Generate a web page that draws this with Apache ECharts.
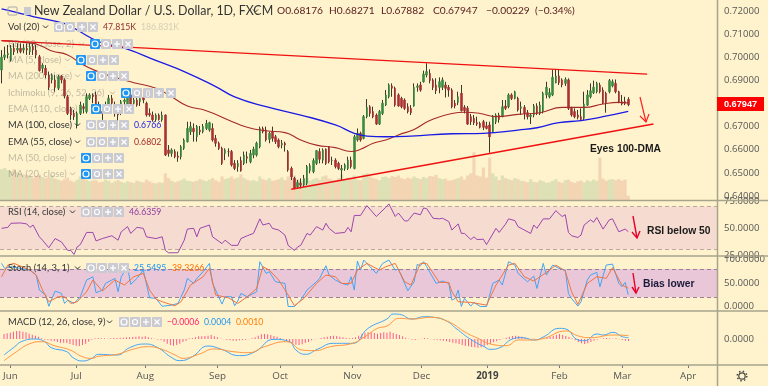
<!DOCTYPE html>
<html><head><meta charset="utf-8">
<style>html,body{margin:0;padding:0;background:#fff3cd}#c{width:768px;height:386px}</style>
<script src="https://cdn.jsdelivr.net/npm/echarts@6/dist/echarts.min.js"></script></head>
<body><div id="c"></div>
<script>
const tickIdx=[2,23,45,68,88,111,133,154,177,197,218];
const tickLabels=['Jun','Jul','Aug','Sep','Oct','Nov','Dec','2019','Feb','Mar','Apr'];
const priceTicks=[0.64,0.65,0.66,0.67,0.68,0.69,0.70,0.71,0.72];
const opens=[.6945,.7000,.7010,.6988,.7039,.7031,.7039,.7031,.7039,.7024,
.7046,.7031,.7002,.6952,.6952,.6923,.6902,.6902,.6866,.6919,
.6902,.6829,.6779,.6757,.6707,.6757,.6786,.6765,.6822,.6837,
.6837,.6793,.6765,.6786,.6789,.6822,.6757,.6772,.6757,.6808,
.6786,.6837,.6801,.6815,.6808,.6825,.6801,.6757,.6750,.6731,
.6750,.6729,.6750,.6599,.6584,.6592,.6573,.6570,.6606,.6635,
.6678,.6692,.6656,.6685,.6678,.6692,.6685,.6692,.6649,.6628,
.6606,.6584,.6592,.6592,.6541,.6527,.6553,.6541,.6570,.6548,
.6577,.6577,.6613,.6692,.6685,.6645,.6678,.6656,.6642,.6620,
.6628,.6592,.6519,.6476,.6440,.6455,.6447,.6455,.6509,.6505,
.6541,.6592,.6555,.6602,.6613,.6553,.6555,.6541,.6512,.6519,
.6519,.6555,.6519,.6642,.6671,.6649,.6743,.6786,.6765,.6750,
.6711,.6757,.6793,.6829,.6876,.6866,.6837,.6822,.6815,.6786,
.6779,.6789,.6870,.6880,.6894,.6923,.6930,.6902,.6880,.6870,
.6870,.6880,.6870,.6858,.6801,.6804,.6844,.6783,.6779,.6743,
.6736,.6717,.6714,.6721,.6703,.6707,.6678,.6721,.6750,.6743,
.6789,.6786,.6837,.6822,.6822,.6779,.6783,.6760,.6743,.6750,
.6789,.6757,.6765,.6837,.6829,.6837,.6890,.6919,.6902,.6887,
.6902,.6779,.6765,.6750,.6743,.6736,.6793,.6829,.6847,.6851,
.6880,.6858,.6844,.6851,.6876,.6887,.6851,.6808,.6808,.68176];
const closes=[.7000,.7010,.7017,.7039,.7024,.7039,.7024,.7039,.7031,.7046,
.7031,.7010,.6942,.6966,.6923,.6870,.6923,.6870,.6916,.6902,
.6832,.6757,.6750,.6743,.6757,.6793,.6779,.6829,.6837,.6829,
.6789,.6779,.6757,.6793,.6822,.6801,.6793,.6750,.6808,.6815,
.6829,.6793,.6815,.6793,.6822,.6815,.6750,.6750,.6729,.6750,
.6731,.6750,.6577,.6584,.6599,.6570,.6567,.6613,.6642,.6692,
.6700,.6678,.6700,.6678,.6700,.6714,.6717,.6642,.6628,.6606,
.6541,.6599,.6592,.6534,.6519,.6541,.6509,.6577,.6563,.6584,
.6602,.6628,.6692,.6678,.6642,.6671,.6649,.6635,.6613,.6628,
.6620,.6512,.6483,.6433,.6458,.6447,.6476,.6527,.6531,.6553,
.6596,.6559,.6599,.6541,.6548,.6555,.6527,.6519,.6519,.6534,
.6555,.6527,.6656,.6671,.6642,.6743,.6783,.6757,.6743,.6711,
.6765,.6801,.6837,.6880,.6866,.6793,.6789,.6786,.6779,.6765,
.6760,.6870,.6876,.6858,.6927,.6938,.6899,.6870,.6855,.6894,
.6902,.6866,.6858,.6786,.6789,.6829,.6769,.6769,.6711,.6721,
.6717,.6711,.6697,.6697,.6692,.6656,.6740,.6750,.6731,.6786,
.6779,.6837,.6822,.6851,.6772,.6786,.6757,.6743,.6750,.6789,
.6757,.6793,.6844,.6870,.6847,.6913,.6919,.6890,.6880,.6904,
.6779,.6750,.6743,.6740,.6731,.6798,.6837,.6855,.6870,.6887,
.6851,.6801,.6804,.6899,.6894,.6851,.6808,.6798,.6801,.67947];
const highs=[.7031,.7046,.7053,.7053,.7060,.7060,.7060,.7057,.7060,.7063,
.7060,.7053,.7010,.6974,.6966,.6938,.6930,.6923,.6923,.6923,
.6909,.6837,.6786,.6772,.6765,.6808,.6801,.6844,.6844,.6844,
.6851,.6808,.6793,.6808,.6837,.6837,.6808,.6786,.6815,.6822,
.6837,.6844,.6829,.6829,.6832,.6837,.6808,.6779,.6765,.6757,
.6757,.6765,.6753,.6620,.6606,.6602,.6592,.6620,.6649,.6721,
.6721,.6714,.6707,.6703,.6711,.6729,.6721,.6714,.6664,.6635,
.6613,.6606,.6606,.6599,.6555,.6555,.6570,.6592,.6592,.6599,
.6613,.6635,.6700,.6700,.6700,.6678,.6700,.6664,.6649,.6642,
.6635,.6599,.6527,.6483,.6469,.6476,.6491,.6534,.6541,.6563,
.6599,.6606,.6606,.6606,.6616,.6570,.6563,.6548,.6534,.6541,
.6570,.6570,.6664,.6692,.6678,.6750,.6819,.6793,.6786,.6757,
.6772,.6815,.6858,.6887,.6887,.6873,.6844,.6829,.6822,.6801,
.6793,.6887,.6887,.6894,.6942,.6974,.6948,.6909,.6909,.6913,
.6913,.6894,.6880,.6866,.6815,.6851,.6880,.6793,.6789,.6755,
.6750,.6743,.6721,.6729,.6721,.6721,.6750,.6757,.6760,.6815,
.6815,.6844,.6844,.6855,.6829,.6808,.6793,.6772,.6757,.6798,
.6801,.6808,.6851,.6894,.6866,.6945,.6948,.6945,.6909,.6913,
.6909,.6786,.6779,.6772,.6779,.6851,.6858,.6887,.6899,.6894,
.6890,.6870,.6851,.6906,.6904,.6904,.6855,.6837,.6829,.68271];
const lows=[.6887,.6988,.6995,.6981,.7010,.7017,.7017,.7017,.7010,.7010,
.7010,.6995,.6938,.6933,.6909,.6858,.6887,.6851,.6858,.6887,
.6822,.6750,.6729,.6729,.6692,.6750,.6757,.6757,.6815,.6801,
.6779,.6765,.6729,.6772,.6779,.6779,.6743,.6721,.6750,.6779,
.6779,.6786,.6786,.6786,.6789,.6801,.6743,.6743,.6721,.6721,
.6726,.6721,.6573,.6570,.6570,.6563,.6548,.6558,.6599,.6631,
.6664,.6635,.6635,.6664,.6671,.6685,.6678,.6635,.6613,.6599,
.6534,.6555,.6570,.6527,.6512,.6505,.6505,.6534,.6541,.6541,
.6563,.6570,.6606,.6671,.6635,.6628,.6635,.6625,.6606,.6606,
.6592,.6505,.6469,.6429,.6433,.6433,.6440,.6447,.6498,.6498,
.6534,.6541,.6541,.6534,.6541,.6534,.6519,.6512,.6469,.6509,
.6512,.6519,.6515,.6635,.6635,.6645,.6736,.6743,.6736,.6707,
.6707,.6750,.6789,.6822,.6829,.6786,.6786,.6779,.6772,.6757,
.6750,.6786,.6851,.6851,.6890,.6913,.6887,.6858,.6841,.6844,
.6858,.6826,.6829,.6779,.6779,.6793,.6765,.6757,.6707,.6707,
.6707,.6703,.6692,.6685,.6688,.6587,.6674,.6711,.6717,.6740,
.6772,.6779,.6815,.6818,.6765,.6750,.6731,.6731,.6711,.6740,
.6750,.6750,.6757,.6822,.6822,.6832,.6887,.6880,.6870,.6876,
.6772,.6743,.6736,.6731,.6726,.6729,.6789,.6822,.6841,.6844,
.6844,.6798,.6760,.6844,.6870,.6844,.6801,.6792,.6793,.67882];
const volumes=[300,310,290,280,300,270,260,250,245,230,220,235,250,225,215,225,240,210,200,190,
205,220,190,180,200,230,215,200,185,190,195,175,180,200,190,170,185,195,180,170,
185,175,170,190,180,175,200,185,170,165,175,170,260,215,190,175,185,195,210,190,
185,180,190,205,195,185,200,215,195,180,230,205,215,230,210,220,250,215,200,190,
195,185,230,205,195,215,190,195,205,220,195,230,250,240,205,190,200,215,190,205,
215,200,230,240,210,200,195,215,250,205,220,210,240,200,195,250,260,230,215,205,
195,225,230,215,235,225,240,215,205,220,210,230,215,205,225,215,235,230,245,215,
205,210,190,195,205,215,230,200,240,260,460,240,230,315,220,410,260,230,195,240,
215,205,195,215,205,190,185,175,205,180,175,195,185,170,175,190,205,180,170,195,
200,180,170,185,190,175,195,185,200,190,410,210,190,200,205,195,205,190,200,48];
const ema55Days=[0,10,13,16,21,25,30,36,42,49,54,59,65,72,78,84,90,95,100,106,111,114,118,122,126,131,136,143,147,152,157,164,171,178,185,191,196,199];
const ema55Vals=[.7072,.7060,.7046,.7027,.7010,.6974,.6941,.6913,.6890,.6866,.6829,.6789,.6769,.6729,.6697,.6682,.6674,.6642,.6620,.6609,.6592,.6602,.6628,.6642,.6664,.6688,.6726,.6757,.6762,.6757,.6743,.6753,.6760,.6783,.6783,.6798,.6805,.6802];
const ma100Days=[0,5,10,21,24,31,39,50,58,68,74,84,95,106,112,116,122,130,143,153,164,170,177,184,191,199];
const ma100Vals=[.7209,.7193,.7176,.7142,.7118,.7067,.7039,.6981,.6938,.6873,.6829,.6786,.6750,.6707,.6671,.6659,.6656,.6659,.6669,.6671,.6685,.6695,.6717,.6726,.6743,.6766];
const resistDays=[0,205], resistVals=[.7072,.6927];
const supportDays=[92,207], supportVals=[.6429,.6711];
const rsiDays=[0,2,3,6,8,9,10,12,13,15,17,19,21,22,23,24,25,27,29,30,32,35,37,38,40,41,43,45,46,49,51,52,53,56,58,59,61,62,63,66,67,70,71,73,75,76,78,80,82,83,85,86,88,90,91,93,94,95,97,98,100,102,103,104,106,109,110,111,112,114,116,119,122,123,125,126,128,129,131,133,134,135,137,139,140,142,143,145,146,147,149,150,151,153,154,157,158,160,161,163,164,168,169,170,172,174,176,178,179,180,181,183,184,185,187,188,189,191,193,194,196,198,199];
const rsiVals=[49.7,50.6,54.4,54.7,53.8,50.6,52.8,41.8,38.7,31.7,40.2,37.1,29.2,29.2,25.4,32.4,34.6,45.9,45.9,38.0,40.2,42.8,38.7,46.5,51.3,45,50.6,49.7,41.8,40.2,41.8,29.2,27,27,38.7,49,49.7,41.8,49.7,52.8,41.8,35.5,38.7,33.9,33.9,40.2,42.8,45,58.5,52.8,54.4,49.7,48.1,43.4,33.9,29.2,32.4,33.9,45,43.4,51.3,48.1,54.4,49.7,45,45.9,50.6,46.5,61.7,61.7,70.8,60.7,69.2,72.4,60.7,63.9,56.6,56.6,63.9,62.3,68.6,68,59.1,58.5,59.1,56,48.1,53.8,45,45,39.3,41.8,39.3,39.6,34.6,49.7,45.9,53.5,58.5,56.9,51.3,45,52.8,49.7,58.5,58.5,66.1,60.7,62.3,45.9,42.8,41.2,43.4,52.8,57.6,55.4,59.8,49,57.6,58.5,46.5,49,46.64];
const kDays=[0,1,3,9,11,12,14,15,17,19,20,21,23,25,27,29,30,32,33,36,37,38,40,41,43,45,47,49,51,54,56,58,59,61,62,64,66,67,70,71,73,74,75,76,78,81,82,84,85,87,90,91,93,95,97,100,101,103,104,106,108,110,111,112,113,114,115,119,121,123,125,126,129,131,132,133,134,135,138,140,142,143,144,145,146,147,149,150,152,154,156,158,159,161,163,164,167,169,170,172,173,175,177,179,180,181,183,184,186,187,189,190,192,194,196,197,198,199];
const kVals=[91.7,81.2,84.7,77.6,67,35.3,24.7,1,33.2,28.2,7,14.1,7,21.2,56.5,63.5,29.6,35.3,49.4,60,31.8,63.5,84.7,47.3,60,77.6,19,17.6,1,3.5,7,35.3,60,49.4,60,74.1,91.7,49.4,5.6,21.2,21.2,2.1,12,28.2,21.2,31.8,95.3,70.6,74.1,52.9,49.4,0.5,0.5,14.1,35.3,52.9,60,86.8,67,56.5,49.4,45.9,63.5,35.3,96.7,77.6,98.8,70.6,91.7,98.8,77.6,79.7,33.9,52.9,89.6,86.8,95.3,84.7,49.4,54.3,49.4,14.1,17.6,35.3,0.5,17.6,1.4,9.2,0.5,0.5,49.4,56.5,45.9,95.3,88.2,70.6,52.9,64.9,38.8,91.7,67,88.2,81.2,77.6,28.2,17.6,1.4,10.6,56.5,67,72.7,42.3,88.2,90.3,49.4,42.3,51.5,25.55];
const dDays=[0,2,4,9,11,13,15,18,20,22,24,27,29,32,36,39,42,45,47,49,51,55,57,60,64,66,68,72,75,78,81,83,85,88,91,93,96,100,103,106,108,111,113,116,120,122,125,128,130,133,135,139,142,143,145,149,154,157,161,163,166,169,171,174,176,179,181,183,186,189,192,194,197,199];
const dVals=[63.5,88.2,91.7,77.6,67,35.3,10.6,21.2,21.2,7,10.6,31.8,56.5,33.2,56.5,45.9,63.5,70.6,35.3,16.2,10.6,2.1,10.6,45.9,63.5,81.2,24.7,19.1,7,21.2,38.8,84.7,77.6,56.5,24.7,2.1,17.6,49.4,67,63.5,49.4,49.4,77.6,91.7,77.6,84.7,91.7,52.9,45.9,91.7,91.7,51.5,51.5,31.8,10.6,9.2,3.5,45.9,88.2,91.7,63.5,54.3,63.5,77.6,88.2,75.5,31.8,4.9,49.4,63.5,60,82.6,45.9,39.33];
const macdDays=[0,3,6,10,13,15,20,22,25,28,30,36,40,45,49,53,56,60,65,69,75,80,86,91,93,96,100,105,111,116,122,124,126,130,134,137,141,144,149,153,155,158,162,165,169,172,177,179,183,185,189,191,194,197,199];
const macdVals=[-.0048,-.0026,-.0006,0,-.0008,-.0026,-.0038,-.0056,-.0066,-.0058,-.0046,-.0048,-.0026,-.0015,-.0026,-.0053,-.0065,-.0053,-.0021,-.0030,-.0050,-.0038,-.0001,-.0008,-.0033,-.0046,-.0030,-.0013,-.0013,.0032,.0060,.0075,.0074,.0060,.0067,.0065,.0054,.0032,-.0003,-.0023,-.0031,-.0026,0,.0004,-.0003,.0007,.0032,.0030,-.0003,-.0005,.0015,.0012,.0020,.0007,.0004];
const signalDays=[0,4,8,12,16,21,25,28,30,36,41,46,50,55,57,62,67,73,78,83,90,95,99,104,111,115,119,122,126,130,136,142,147,151,155,160,164,168,172,179,183,187,194,199];
const signalVals=[-.0065,-.0038,-.0015,-.0008,-.0020,-.0033,-.0053,-.0058,-.0052,-.0046,-.0031,-.0023,-.0030,-.0050,-.0058,-.0046,-.0030,-.0038,-.0041,-.0023,-.0008,-.0033,-.0035,-.0023,-.0013,.0007,.0032,.0039,.0062,.0060,.0065,.0050,.0020,.0002,-.0015,-.0020,-.0003,-.0003,.0002,.0024,.0009,.0004,.0012,.0010];
const histVals=[.0015,.0017,.0019,.0022,.0024,.0024,.0022,.0020,.0016,.0013,
.0010,.0007,.0002,-.0002,-.0003,-.0005,-.0007,-.0009,-.0011,-.0011,
-.0012,-.0015,-.0018,-.0020,-.0021,-.0018,-.0014,-.0008,-.0002,.0002,
.0003,.0002,.0002,.0001,.0002,.0003,.0003,.0004,.0004,.0005,
.0005,.0006,.0007,.0008,.0007,.0008,.0005,.0002,.0001,-.0002,
-.0003,-.0008,-.0014,-.0018,-.0020,-.0018,-.0014,-.0009,-.0005,.0002,
.0003,.0005,.0008,.0008,.0009,.0010,.0012,.0008,.0005,.0001,
-.0001,-.0003,-.0004,-.0005,-.0005,-.0004,-.0003,-.0002,-.0001,.0002,
.0005,.0010,.0014,.0015,.0014,.0012,.0009,.0007,.0003,-.0001,
-.0006,-.0010,-.0014,-.0017,-.0018,-.0016,-.0012,-.0009,-.0004,-.0001,
.0001,.0003,.0005,.0007,.0009,.0010,.0009,.0007,.0005,.0003,
.0002,.0003,.0005,.0010,.0014,.0018,.0020,.0020,.0018,.0016,
.0018,.0020,.0019,.0022,.0018,.0015,.0012,.0008,.0004,.0001,
-.0002,-.0003,-.0001,.0001,.0003,.0002,-.0001,-.0002,-.0003,-.0004,
-.0005,-.0007,-.0009,-.0011,-.0013,-.0015,-.0018,-.0020,-.0022,-.0024,
-.0025,-.0026,-.0025,-.0022,-.0018,-.0014,-.0010,-.0007,-.0003,.0001,
.0004,.0007,.0009,.0010,.0009,.0007,.0004,.0002,.0001,.0001,
-.0001,.0001,.0003,.0005,.0007,.0010,.0013,.0015,.0012,.0009,
.0006,.0002,-.0004,-.0009,-.0013,-.0015,-.0013,-.0009,-.0005,-.0002,
.0001,.0002,.0003,.0002,.0001,.0002,-.0001,-.0003,-.0005,-.0006];

const BARS_TOTAL=228;
const categories=[];
for(let d=new Date(Date.UTC(2018,4,30));categories.length<BARS_TOTAL;d=new Date(d.getTime()+864e5)){
  const w=d.getUTCDay(); if(w!==0&&w!==6) categories.push(d.toISOString().slice(0,10));
}
const pairs=(a,b)=>a.map((x,i)=>[x,b[i]]);
const FONT='Lato,"Open Sans",sans-serif';
const AXFONT='"Open Sans","Noto Sans",sans-serif';
const BOLD='"Liberation Sans",Arial,sans-serif';
const axisCol='#555';
const g=[];
function txt(x,y,t,fill,opt={}){g.push({type:'text',silent:true,z:opt.z||50,style:{x,y,text:t,fill,font:`${opt.w||'normal'} ${opt.s||9.4}px ${opt.f||FONT}`,textVerticalAlign:'middle',textAlign:opt.a||'left'}});}
function ln(pts,stroke,w=1,z=60){g.push({type:'polyline',silent:true,z,shape:{points:pts},style:{stroke,lineWidth:w,fill:null}});}
function chev(x,y,c){ln([[x,y-1.5],[x+2.5,y+1],[x+5,y-1.5]],c,1);}
function icons(y,xs,blue,kinds){xs.forEach((x,k)=>{
  const kind=(kinds||['e','g','p','x'])[k];
  const isB=blue&&k===0, c=isB?'#2196f3':'#c9cad2';
  g.push({type:'rect',silent:true,z:50,shape:{x,y:y-5,width:10,height:10,r:1},style:{fill:c}});
  if(kind==='e'||kind==='g')g.push({type:'circle',silent:true,z:51,shape:{cx:x+5,cy:y,r:kind==='e'?3:2.5},style:{fill:null,stroke:'#fff',lineWidth:1.2}});
  if(kind==='p'){ln([[x+2,y],[x+8,y]],'#fff',1.3);ln([[x+5,y-3],[x+5,y+3]],'#fff',1.3);}
  if(kind==='x'){ln([[x+2.5,y-2.5],[x+7.5,y+2.5]],'#fff',1.3);ln([[x+2.5,y+2.5],[x+7.5,y-2.5]],'#fff',1.3);}
  if(kind==='b'){txt(x+5,y,'()','#fff',{s:8,a:'center',z:52});}
});}
const fade='rgba(90,90,90,.38)', dark='#333', VAL=8.7;
// header
g.push({type:'rect',silent:true,z:50,shape:{x:8,y:7,width:9,height:8,r:1},style:{fill:null,stroke:'#a8a8a8',lineWidth:1}});
g.push({type:'rect',silent:true,z:50,shape:{x:24,y:7,width:7,height:8},style:{fill:'#c9cad2'}});
txt(34,11,'New Zealand Dollar / U.S. Dollar, 1D, FXCM',dark,{s:12.4});
chev(253,11,dark);
[[277,'O0.68176'],[329,'H0.68271'],[381,'L0.67882'],[433,'C0.67947'],[486,'\u22120.00229'],[535,'(\u22120.34%)']].forEach(r=>txt(r[0],11,r[1],'#5a2020',{s:10.2}));
// legend rows
const rows=[
 [27,'Vol (20)',dark,[54,65,77,88],false],
 [44,'BB (20, close, 2)',fade,[90,101,112,123],true],
 [60,'MA (5, close)',fade,[76,87,98,109],true],
 [76,'MA (200, close)',fade,[86,97,108,119],true],
 [93,'Ichimoku (9, 26, 52, 26)',fade,[121,132,143,154,166],true],
 [109,'EMA (110, close)',fade,[91,102,113,124],true],
 [125,'MA (100, close)',dark,[86,97,108,119],false],
 [142,'EMA (55, close)',dark,[86,97,108,119],false],
 [158,'MA (50, close)',fade,[81,92,103,114],true],
 [174,'MA (20, close)',fade,[81,92,103,114],true]];
rows.forEach(r=>{txt(8,r[0],r[1],r[2]);chev(r[3][0]-11,r[0],r[2]);
  icons(r[0],r[3],r[4],r[3].length===5?['e','g','b','p','x']:null);});
txt(103,27,'47.815K','#8b2f2f',{s:VAL});txt(141,27,'186.831K','rgba(120,120,120,.3)',{s:VAL});
txt(134,125,'0.6766','#1a1ae6',{s:VAL});txt(134,142,'0.6802','#a52a2a',{s:VAL});
// lower panes
txt(8,212,'RSI (14, close)',dark);chev(70,212,dark);icons(212,[81,92,103,114]);txt(129,212,'46.6359','#8e3aa0',{s:VAL});
txt(8,268,'Stoch (14, 3, 1)',dark);chev(75,268,dark);icons(268,[86,97,108,119]);txt(134,268,'25.5495','#2196f3',{s:VAL});txt(172,268,'39.3266','#ff6d00',{s:VAL});
txt(8,322,'MACD (12, 26, close, 9)',dark);chev(107,322,dark);icons(322,[119,130,141,152]);txt(167,322,'\u22120.0006','#ff1f6b',{s:VAL});txt(204,322,'0.0004','#2196f3',{s:VAL});txt(236,322,'0.0010','#ff7d00',{s:VAL});
// annotations
txt(590,149,'Eyes 100-DMA','#1a1a1a',{s:10.3,w:'bold',f:BOLD});
txt(647,231,'RSI below 50','#1a1a1a',{s:10.3,w:'bold',f:BOLD});
txt(643,284,'Bias lower','#1a1a3a',{s:10.3,w:'bold',f:BOLD});
ln([[640,97],[646,122]],'#ff2020',1.2);ln([[640,116],[646,122],[649,114]],'#ff2020',1.2);
ln([[633,216],[637,238]],'#e8002a',1.4);ln([[632,232],[637,238],[640,231]],'#e8002a',1.4);
ln([[633,273],[636,293]],'#e8002a',1.4);ln([[632,287],[636,293],[639,287]],'#e8002a',1.4);
// price tag
g.push({type:'rect',silent:true,z:70,shape:{x:717,y:97,width:47,height:14},style:{fill:'#ff0000'}});
txt(740.5,104,'0.67947','#fff',{s:9.2,w:'bold',a:'center',z:71,f:BOLD});
// frame
const frame='#a7a38c';
[200.5,256,311,365].forEach(y=>ln([[0,y],[768,y]],frame,1.5,40));
ln([[717.5,0],[717.5,386]],frame,1.5,40);
// gear
g.push({type:'circle',silent:true,z:50,shape:{cx:742,cy:376,r:3.2},style:{fill:null,stroke:'#444',lineWidth:1.2}});
g.push({type:'circle',silent:true,z:50,shape:{cx:742,cy:376,r:4.8},style:{fill:null,stroke:'#444',lineWidth:1.4,lineDash:[1.5,2.3]}});

const yLab=(dec)=>({color:axisCol,fontSize:9.6,fontFamily:AXFONT,margin:6,formatter:v=>v.toFixed(dec)});
const yAx=(i,min,max,vals,dec)=>({gridIndex:i,position:'right',min,max,scale:true,splitLine:{show:false},
  axisLine:{show:false},axisTick:{show:false},axisLabel:{...yLab(dec),customValues:vals}});
const xAx=(i,show)=>({type:'category',gridIndex:i,data:categories,boundaryGap:true,show,position:'bottom',
  axisLine:{show:false,onZero:false},axisTick:{show,alignWithLabel:true,length:3,interval:k=>tickIdx.includes(k),lineStyle:{color:'#777'}},
  splitLine:{show:false},
  axisLabel:{show,interval:k=>tickIdx.includes(k),hideOverlap:false,margin:6,color:axisCol,fontSize:9.8,fontFamily:AXFONT,
    formatter:(v,k)=>{const t=tickLabels[tickIdx.indexOf(k)];return t==='2019'?'{b|2019}':t;},
    rich:{b:{fontWeight:'bold',fontSize:9.8,fontFamily:AXFONT,color:'#444'}}}});
const thin=(c,w=1)=>({color:c,width:w});
const upC='#3b8a3f',dnC='#a83232';
const wickData=opens.map((o,i)=>[o,closes[i],lows[i],highs[i]]);
const bodyData=opens.map((o,i)=>[o,closes[i],Math.min(o,closes[i]),Math.max(o,closes[i])]);
const band=(a,b,c,dash)=>({markArea:{silent:true,itemStyle:{color:c},data:[[{x:0,yAxis:a},{x:717,yAxis:b}]]},
  markLine:{silent:true,symbol:'none',label:{show:false},lineStyle:{color:dash,type:[4,3],width:1},
    data:[[{x:0,yAxis:a},{x:717,yAxis:a}],[{x:0,yAxis:b},{x:717,yAxis:b}]]}});
const line=(xi,yi,data,c,extra={})=>({type:'line',xAxisIndex:xi,yAxisIndex:yi,data,showSymbol:false,symbol:'none',lineStyle:thin(c),itemStyle:{color:c},animation:false,silent:true,z:5,...extra});

const chart=echarts.init(document.getElementById('c'),null,{renderer:'canvas'});
chart.setOption({
  animation:false,backgroundColor:'#fff3cd',
  grid:[{left:0,top:0,width:718,height:200.7},{left:0,top:201,width:718,height:55},{left:0,top:256,width:718,height:55},{left:0,top:311,width:718,height:54}],
  xAxis:[xAx(0,false),xAx(1,false),xAx(2,false),xAx(3,true)],
  yAxis:[yAx(0,.63795,.72476,priceTicks,5),
    {gridIndex:0,show:false,min:0,max:1906,splitLine:{show:false}},
    yAx(1,24,75.1,[25,50,75],4),yAx(2,-9,107.4,[0,50,100],4),yAx(3,-.0078,.0084,[0],4)],
  series:[
    {type:'bar',name:'Volume',xAxisIndex:0,yAxisIndex:1,barWidth:'100%',silent:true,z:1,
     data:volumes.map((v,i)=>({value:v,itemStyle:{color:closes[i]>=opens[i]?'rgba(120,170,110,.25)':'rgba(200,110,90,.22)'}}))},
    {type:'candlestick',name:'wicks',xAxisIndex:0,yAxisIndex:0,data:wickData,barWidth:1,silent:true,z:3,
     itemStyle:{color:'#3a3a2c',color0:'#3a3a2c',borderColor:'#3a3a2c',borderColor0:'#3a3a2c',borderWidth:1}},
    {type:'candlestick',name:'NZDUSD',xAxisIndex:0,yAxisIndex:0,data:bodyData,barWidth:2,silent:true,z:4,
     itemStyle:{color:upC,color0:dnC,borderColor:upC,borderColor0:dnC,borderWidth:0.6}},
    line(0,0,pairs(ema55Days,ema55Vals),'#a52a2a',{smooth:true,lineStyle:thin('#a52a2a',1.1)}),
    line(0,0,pairs(ma100Days,ma100Vals),'#1a1ae6',{smooth:true,lineStyle:thin('#1a1ae6',1.3)}),
    line(0,0,pairs(resistDays,resistVals),'#f01010',{lineStyle:thin('#f01010',1.4),z:6}),
    line(0,0,pairs(supportDays,supportVals),'#f01010',{lineStyle:thin('#f01010',1.4),z:6}),
    line(1,2,pairs(rsiDays,rsiVals),'#9c45ad',{...band(30,70,'#f6dcd0','#bda5a0')}),
    line(2,3,pairs(kDays,kVals),'#42a5f5',{...band(20,80,'#eac7d8','#9a7f95')}),
    line(2,3,pairs(dDays,dVals),'#f4733d'),
    {type:'bar',xAxisIndex:3,yAxisIndex:4,data:histVals,barWidth:1,silent:true,itemStyle:{color:'#ff5a8c'},z:3},
    line(3,4,pairs(macdDays,macdVals),'#42a5f5',{smooth:true}),
    line(3,4,pairs(signalDays,signalVals),'#ff9640',{smooth:true})
  ],
  graphic:{elements:g}
});
</script></body></html>
